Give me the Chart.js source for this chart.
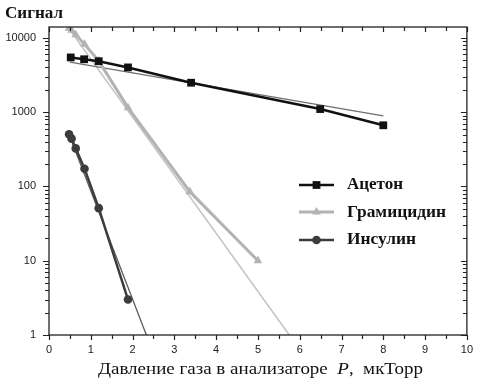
<!DOCTYPE html>
<html>
<head>
<meta charset="utf-8">
<script src="https://cdn.jsdelivr.net/npm/chart.js@4.4.1/dist/chart.umd.min.js"></script>
<style>
  html, body { margin: 0; padding: 0; background: #ffffff; }
  #wrap { width: 481px; height: 388px; position: relative; }
</style>
</head>
<body>
<div id="wrap"><canvas id="c" width="481" height="388"></canvas></div>
<script>
// ---- data ----
const yTitle = "Сигнал";
const xTitleA = "Давление газа в анализаторе  ";
const xTitleP = "P";
const xTitleB = ",  мкТорр";
const seriesNames = ["Ацетон", "Грамицидин", "Инсулин"];

const acetoneP      = [0.52, 0.84, 1.19, 1.89, 3.40, 6.49, 8.00];
const acetoneSignal = [5450, 5150, 4850, 4000, 2490, 1100, 665];
const acetoneFitP      = [0.50, 8.00];
const acetoneFitSignal = [4700, 890];

const gramP      = [0.48, 0.54, 0.64, 0.85, 1.19, 1.89, 3.37, 5.00];
const gramSignal = [13500, 12700, 11000, 8200, 4900, 1150, 85, 10];
const gramFitP      = [0.45, 5.75];
const gramFitSignal = [14000, 1];

const insulinP      = [0.48, 0.54, 0.64, 0.85, 1.19, 1.89];
const insulinSignal = [505, 440, 325, 173, 51, 3.0];
const insulinFitP      = [0.48, 2.33];
const insulinFitSignal = [500, 1];

const xTickValues = [0,1,2,3,4,5,6,7,8,9,10];
const yTickValues = [1, 10, 100, 1000, 10000];

function pts(xs, ys) { return xs.map((x, i) => ({x: x, y: ys[i]})); }

const colAcetone = '#111111';
const colGram = '#b3b3b3';
const colInsulin = '#3c3c3c';

const datasets = [
  { label: seriesNames[0], data: pts(acetoneP, acetoneSignal), borderColor: colAcetone, backgroundColor: colAcetone,
    borderWidth: 2.5, pointStyle: 'rect', pointRadius: 5.5, pointBorderWidth: 0, order: 1 },
  { label: seriesNames[1], data: pts(gramP, gramSignal), borderColor: colGram, backgroundColor: colGram,
    borderWidth: 3, pointStyle: 'triangle', pointRadius: 5, pointBorderWidth: 0, order: 2 },
  { label: seriesNames[2], data: pts(insulinP, insulinSignal), borderColor: colInsulin, backgroundColor: colInsulin,
    borderWidth: 2.5, pointStyle: 'circle', pointRadius: 4.3, pointBorderWidth: 0, order: 1 },
  { label: 'fitA', data: pts(acetoneFitP, acetoneFitSignal), borderColor: '#6e6e6e', borderWidth: 1.3, pointRadius: 0, order: 3 },
  { label: 'fitG', data: pts(gramFitP, gramFitSignal), borderColor: '#c6c6c6', borderWidth: 1.6, pointRadius: 0, order: 3 },
  { label: 'fitI', data: pts(insulinFitP, insulinFitSignal), borderColor: '#5a5a5a', borderWidth: 1.3, pointRadius: 0, order: 3 }
];

// draw text stretched horizontally to a target width
function fitText(ctx, txt, x, y, w) {
  const nat = ctx.measureText(txt).width;
  ctx.save();
  ctx.translate(x, y);
  ctx.scale(w / nat, 1);
  ctx.fillText(txt, 0, 0);
  ctx.restore();
}

const framePlugin = {
  id: 'frame',
  afterDatasetsDraw(chart) {
    const ctx = chart.ctx, a = chart.chartArea;
    const xs = chart.scales.x, ys = chart.scales.y;
    ctx.save();
    ctx.strokeStyle = '#222';
    ctx.lineWidth = 1.3;
    ctx.strokeRect(a.left, a.top, a.right - a.left, a.bottom - a.top);
    ctx.lineWidth = 1.2;
    ctx.beginPath();
    for (let v = 0; v <= 10.001; v += 0.5) {
      const px = Math.round(xs.getPixelForValue(v)) + 0.5;
      const major = Math.abs(v - Math.round(v)) < 1e-6;
      const L = major ? 5 : 4;
      ctx.moveTo(px, a.bottom); ctx.lineTo(px, a.bottom + L);
      ctx.moveTo(px, a.top); ctx.lineTo(px, a.top + L);
    }
    for (let d = 1; d <= 10000; d *= 10) {
      for (let m = 1; m <= 9; m++) {
        const v = d * m;
        if (v > ys.max) continue;
        const py = Math.round(ys.getPixelForValue(v)) + 0.5;
        const L = m === 1 ? 6 : 4;
        ctx.moveTo(a.left - L, py); ctx.lineTo(a.left, py);
        ctx.moveTo(a.right, py); ctx.lineTo(a.right - L, py);
      }
    }
    ctx.stroke();
    ctx.restore();
  },
  afterDraw(chart) {
    const ctx = chart.ctx;
    ctx.save();
    ctx.fillStyle = '#111';
    ctx.textBaseline = 'alphabetic';
    ctx.textAlign = 'left';
    // y title
    ctx.font = 'bold 17px "Liberation Serif"';
    fitText(ctx, yTitle, 5, 18, 58);
    // x title with italic P, stretched to reference width
    const fA = '17px "Liberation Serif"', fP = 'italic 17px "Liberation Serif"';
    ctx.font = fA; const wA = ctx.measureText(xTitleA).width; const wB = ctx.measureText(xTitleB).width;
    ctx.font = fP; const wP = ctx.measureText(xTitleP).width;
    const total = wA + wP + wB;
    const target = 325, sx = target / total;
    ctx.save();
    ctx.translate(98, 374);
    ctx.scale(sx, 1);
    ctx.font = fA; ctx.fillText(xTitleA, 0, 0);
    ctx.font = fP; ctx.fillText(xTitleP, wA, 0);
    ctx.font = fA; ctx.fillText(xTitleB, wA + wP, 0);
    ctx.restore();
    // legend
    const rows = [185, 212, 240];
    const bases = [189, 217, 244];
    const widths = [56, 99, 69];
    ctx.font = 'bold 16px "Liberation Serif"';
    for (let i = 0; i < 3; i++) {
      const ds = chart.data.datasets[i];
      const y = rows[i];
      ctx.strokeStyle = ds.borderColor;
      ctx.lineWidth = ds.borderWidth;
      ctx.beginPath(); ctx.moveTo(299, y); ctx.lineTo(334, y); ctx.stroke();
      ctx.fillStyle = ds.backgroundColor;
      Chart.helpers.drawPoint(ctx, { pointStyle: ds.pointStyle, radius: ds.pointRadius, rotation: 0, borderWidth: 0 }, 316.5, y);
      ctx.fillStyle = '#111';
      fitText(ctx, ds.label, 347, bases[i], widths[i]);
    }
    ctx.restore();
  }
};

new Chart(document.getElementById('c'), {
  type: 'line',
  data: { datasets: datasets },
  options: {
    responsive: false,
    animation: false,
    devicePixelRatio: 1,
    layout: { padding: { top: 27, right: 11, left: 0, bottom: 0 } },
    plugins: { legend: { display: false }, tooltip: { enabled: false }, title: { display: false } },
    elements: { line: { tension: 0 } },
    scales: {
      x: {
        type: 'linear', min: 0, max: 10,
        afterBuildTicks: (s) => { s.ticks = xTickValues.map(v => ({ value: v })); },
        ticks: { font: { family: 'Liberation Sans', size: 11 }, color: '#222', padding: 8, maxRotation: 0, autoSkip: false },
        grid: { display: false, drawTicks: false },
        border: { display: false },
        afterFit: (s) => { s.height = 53; }
      },
      y: {
        type: 'logarithmic', min: 1, max: 14000,
        afterBuildTicks: (s) => { s.ticks = yTickValues.map(v => ({ value: v })); },
        ticks: { font: { family: 'Liberation Sans', size: 11 }, color: '#222', padding: 13, autoSkip: false,
                 callback: (v) => String(v) },
        grid: { display: false, drawTicks: false },
        border: { display: false },
        afterFit: (s) => { s.width = 49; }
      }
    }
  },
  plugins: [framePlugin]
});
</script>
</body>
</html>
